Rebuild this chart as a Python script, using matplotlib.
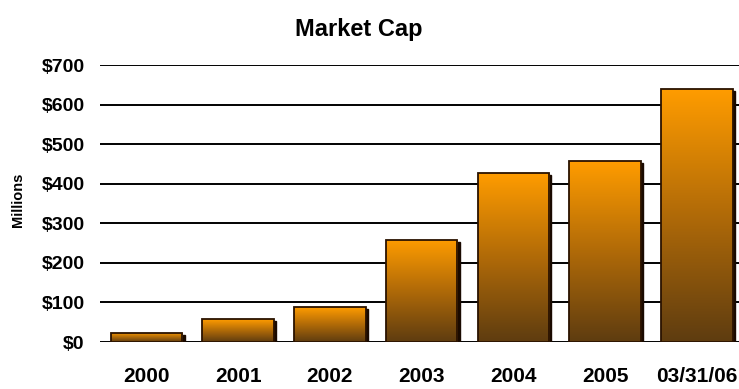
from matplotlib import pyplot as plt
from matplotlib.patches import Rectangle
from matplotlib.colors import LinearSegmentedColormap
import numpy as np

# market cap at year end, $ millions
labels = ['2000', '2001', '2002', '2003', '2004', '2005', '03/31/06']
market_cap = [23, 58, 88, 258, 427, 457, 639]
yticks = [0, 100, 200, 300, 400, 500, 600, 700]

plt.rcParams['font.family'] = ['Liberation Sans', 'DejaVu Sans']
plt.rcParams['font.weight'] = 'bold'

bar_cmap = LinearSegmentedColormap.from_list('bar', ['#5e3c10', '#b06a08', '#ff9c00'])

fig = plt.figure(figsize=(7.39, 3.89), dpi=100)
ax = fig.add_axes([0.1353, 0.1208, 0.8647, 0.7121])

width = 0.78
grad = np.linspace(0, 1, 256).reshape(-1, 1)
for i, val in enumerate(market_cap):
    x0 = i - width / 2
    # thin drop shadow on the right side
    ax.add_patch(Rectangle((x0 + 0.025, 0), width, val - 5, color='#1a0a00', zorder=2))
    img = ax.imshow(grad, cmap=bar_cmap, origin='lower', aspect='auto',
                    extent=(x0, x0 + width, 0, val), zorder=3)
    rect = Rectangle((x0, 0), width, val, fill=False, edgecolor='#2a1200',
                     linewidth=1.3, zorder=4)
    ax.add_patch(rect)
    img.set_clip_path(rect)

ax.set_xlim(-0.507, 6.46)
ax.set_ylim(0, 700)
ax.set_yticks(yticks)
ax.set_yticklabels(['$%d' % v for v in yticks], fontsize=14, fontweight='bold')
ax.set_xticks(range(len(labels)))
ax.set_xticklabels(labels, fontsize=15, fontweight='bold')
ax.tick_params(axis='y', length=0, pad=11)
ax.tick_params(axis='x', length=0, pad=18)
ax.grid(axis='y', color='black', linewidth=1.4, zorder=1)
ax.set_axisbelow(True)
for s in ax.spines.values():
    s.set_visible(False)

fig.text(0.485, 0.925, 'Market Cap', ha='center', va='center', fontsize=17, fontweight='bold')
fig.text(0.024, 0.486, 'Millions', rotation=90, ha='center', va='center',
         fontsize=10.5, fontweight='bold')

fig.savefig('out.png', dpi=100)
